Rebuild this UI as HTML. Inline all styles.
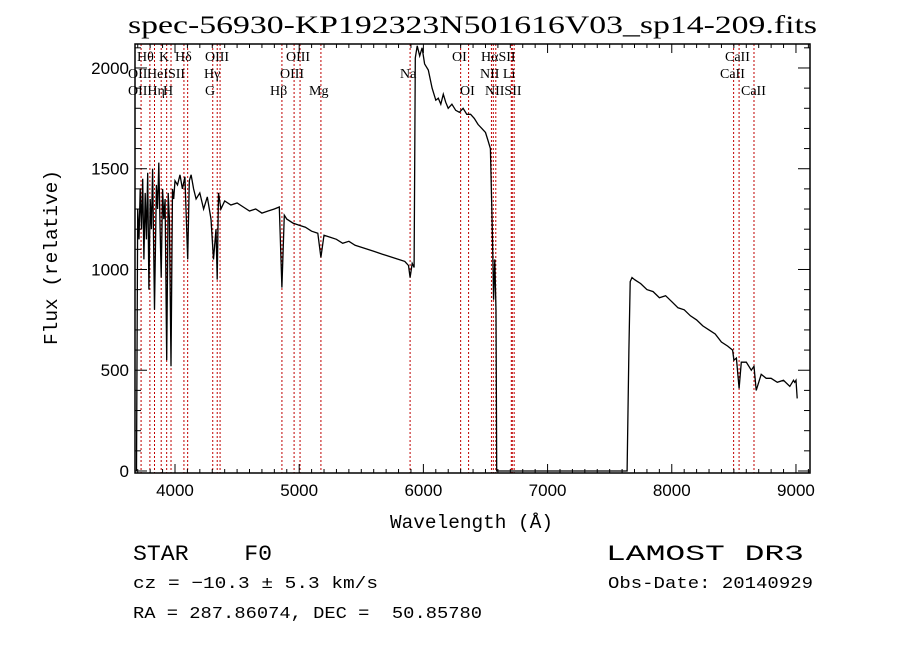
<!DOCTYPE html>
<html><head><meta charset="utf-8"><style>
body{margin:0;background:#fff;}
svg{display:block;}
text{white-space:pre;}
</style></head><body>
<svg id="chart" width="900" height="649" xmlns="http://www.w3.org/2000/svg" xml:space="preserve">
<rect width="900" height="649" fill="#fff"/>
<text x="128" y="33" textLength="689" lengthAdjust="spacingAndGlyphs" font-family="Liberation Serif, serif" font-size="25">spec-56930-KP192323N501616V03_sp14-209.fits</text>
<g id="lines"></g>
<g id="spec"></g>
<g id="axes"></g>
<text x="390" y="528" textLength="163" lengthAdjust="spacingAndGlyphs" font-family="Liberation Mono, monospace" font-size="19">Wavelength (Å)</text>
<text transform="translate(57,345) rotate(-90)" textLength="175" lengthAdjust="spacingAndGlyphs" font-family="Liberation Mono, monospace" font-size="19">Flux (relative)</text>
<text x="133" y="560" textLength="139" lengthAdjust="spacingAndGlyphs" font-family="Liberation Mono, monospace" font-size="22">STAR    F0</text>
<text x="606" y="560" textLength="198" lengthAdjust="spacingAndGlyphs" font-family="Liberation Mono, monospace" font-size="22">LAMOST DR3</text>
<text x="133" y="588" textLength="245" lengthAdjust="spacingAndGlyphs" font-family="Liberation Mono, monospace" font-size="17">cz = −10.3 ± 5.3 km/s</text>
<text x="608" y="588" textLength="205" lengthAdjust="spacingAndGlyphs" font-family="Liberation Mono, monospace" font-size="17">Obs-Date: 20140929</text>
<text x="133" y="618" textLength="349" lengthAdjust="spacingAndGlyphs" font-family="Liberation Mono, monospace" font-size="17">RA = 287.86074, DEC =  50.85780</text>
</svg>
<script>
const wave = [3690,3700,3710,3720,3730,3740,3750,3760,3770,3780,3790,3800,3810,3820,3835,3850,3860,3870,3880,3889,3900,3910,3920,3933,3945,3955,3968,3980,3990,4000,4020,4040,4060,4080,4102,4115,4130,4150,4170,4200,4230,4260,4290,4310,4330,4340,4350,4370,4400,4450,4500,4550,4600,4650,4700,4750,4800,4840,4861,4880,4900,4950,5000,5050,5100,5150,5175,5200,5250,5300,5350,5400,5450,5500,5550,5600,5650,5700,5750,5800,5850,5880,5893,5910,5925,5935,5950,5970,5990,6010,6040,6070,6100,6120,6140,6160,6180,6200,6230,6260,6290,6320,6350,6380,6410,6440,6470,6500,6520,6540,6555,6565,6575,6585,6590,6600,6700,6900,7100,7300,7500,7640,7655,7665,7680,7700,7750,7800,7850,7900,7950,8000,8050,8100,8150,8200,8250,8300,8350,8400,8450,8490,8500,8520,8542,8560,8600,8640,8662,8680,8720,8760,8800,8850,8900,8950,8980,8990,9000,9010];
const flux = [0,1300,1150,1400,1200,1450,1050,1380,1150,1480,900,1350,1200,1500,800,1420,1300,1530,1200,960,1400,1250,1350,550,1380,1250,520,1400,1350,1440,1420,1470,1400,1460,1050,1440,1470,1400,1350,1380,1300,1360,1250,1050,1200,950,1380,1300,1340,1320,1330,1310,1290,1300,1280,1290,1300,1310,910,1270,1250,1230,1220,1210,1190,1180,1060,1170,1160,1150,1130,1140,1120,1110,1100,1090,1080,1070,1060,1050,1040,1020,960,1030,1010,2050,2110,2060,2100,2020,1990,1900,1840,1850,1820,1870,1830,1800,1820,1790,1780,1800,1770,1770,1750,1720,1700,1680,1640,1600,1200,850,1050,800,0,0,0,0,0,0,0,0,600,940,960,950,930,900,890,860,870,840,810,800,770,750,720,700,680,640,620,600,550,560,410,540,540,500,520,400,480,460,460,440,450,420,450,440,450,360,0,0];
const lineWave = [3727,3798,3835,3889,3933,3968,4072,4102,4304,4340,4363,4861,4959,5007,5175,5893,6300,6364,6548,6563,6583,6708,6716,6731,8498,8542,8662];
const lineLabels = [["Hθ",137,61],["K",159,61],["Hδ",175,61],["OIII",205,61],["OIII",286,61],["OI",452,61],["HαSII",481,61],["CaII",725,61],
["OII",128,78],["HeISII",147,78],["Hγ",204,78],["OIII",280,78],["Na",400,78],["NII Li",480,78],["CaII",720,78],
["OIIHη",128,95],["H",163,95],["G",205,95],["Hβ",270,95],["Mg",309,95],["OI",460,95],["NIISII",485,95],["CaII",741,95]];
const yTicks = [0,500,1000,1500,2000];
const xTicks = [4000,5000,6000,7000,8000,9000];
const X0=135,X1=810,Y0=44,Y1=473;
const xmin=3678,xmax=9113,ymin=-10,ymax=2119;
const NS="http://www.w3.org/2000/svg";
function sx(w){return X0+(w-xmin)/(xmax-xmin)*(X1-X0);}
function sy(f){return Y1-(f-ymin)/(ymax-ymin)*(Y1-Y0);}
function mk(tag,attrs,parent){const e=document.createElementNS(NS,tag);for(const k in attrs)e.setAttribute(k,attrs[k]);parent.appendChild(e);return e;}
const gl=document.getElementById('lines');
lineWave.forEach(w=>{
 const l=mk('line',{x1:sx(w),x2:sx(w),y1:Y0,y2:Y1,stroke:'#c00000','stroke-width':1,'stroke-dasharray':'2,2'},gl);
 
 
});
lineLabels.forEach(t=>{
 const e=mk('text',{x:t[1],y:t[2],'font-family':'Liberation Serif, serif','font-size':14},gl);
 e.textContent=t[0];
 
 
});
const gs=document.getElementById('spec');
let d='';
for(let i=0;i<wave.length;i++){const x=Math.max(X0,Math.min(X1,sx(wave[i])));const y=Math.max(Y0,Math.min(Y1,sy(flux[i])));d+=(i?'L':'M')+x.toFixed(1)+','+y.toFixed(1);}
const p=mk('path',{d:d,fill:'none',stroke:'#000','stroke-width':1.3},gs);


const ga=document.getElementById('axes');
const box=mk('rect',{x:X0,y:Y0,width:X1-X0,height:Y1-Y0,fill:'none',stroke:'#000','stroke-width':1.5},ga);


for(let w=3700;w<=9100;w+=100){const x=sx(w);const L=(w%1000===0)?9:4;
 mk('line',{x1:x,x2:x,y1:Y1,y2:Y1-L,stroke:'#000'},ga);mk('line',{x1:x,x2:x,y1:Y0,y2:Y0+L,stroke:'#000'},ga);}
for(let f=0;f<=2100;f+=100){const y=sy(f);const L=(f%500===0)?12:6;
 mk('line',{x1:X0,x2:X0+L,y1:y,y2:y,stroke:'#000'},ga);mk('line',{x1:X1,x2:X1-L,y1:y,y2:y,stroke:'#000'},ga);}
xTicks.forEach(w=>{const e=mk('text',{x:sx(w),y:Y1+23,'text-anchor':'middle','font-family':'Liberation Sans, sans-serif','font-size':17},ga);e.textContent=w;
 
 });
yTicks.forEach(f=>{const e=mk('text',{x:X0-6,y:sy(f)+6,'text-anchor':'end','font-family':'Liberation Sans, sans-serif','font-size':17},ga);e.textContent=f;
 
 });
</script>
</body></html>
